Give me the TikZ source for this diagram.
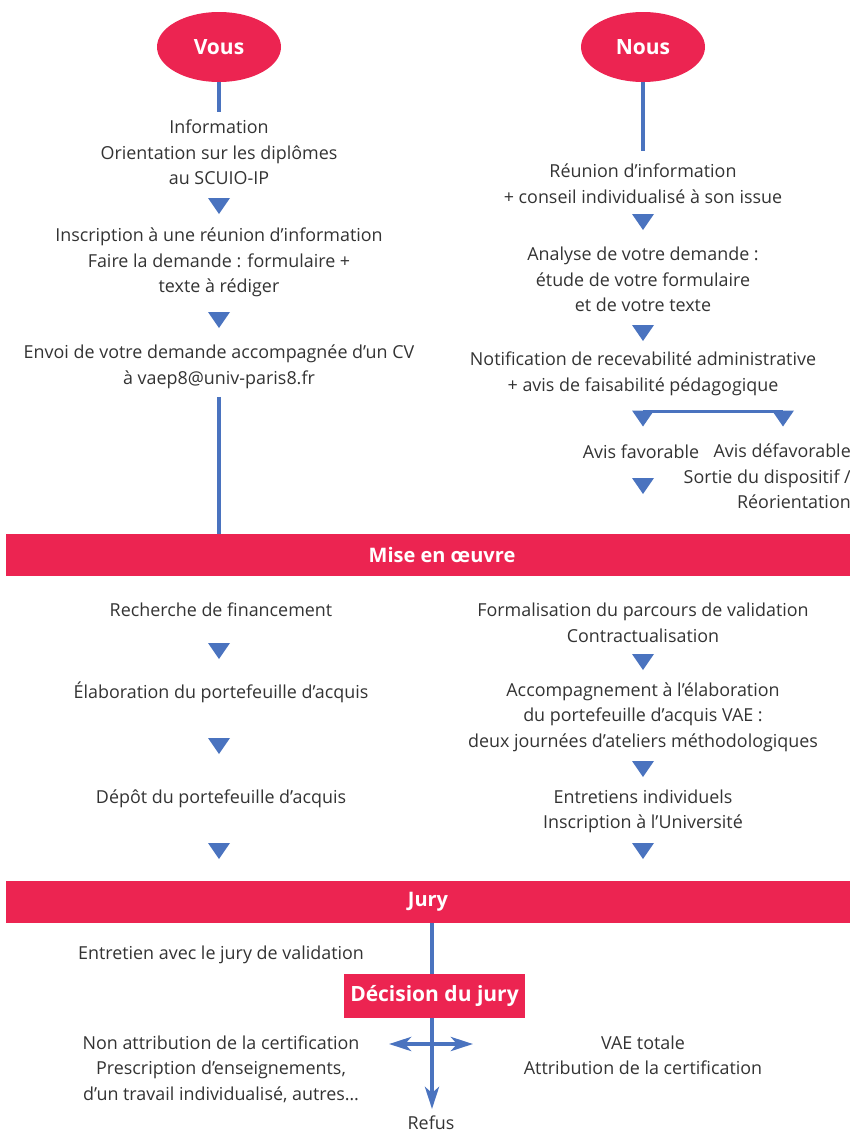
\documentclass[tikz,border=0pt]{standalone}
\usepackage{fontspec}
\setmainfont{Open Sans}
\usetikzlibrary{arrows.meta,shapes.geometric,calc}
\definecolor{vred}{HTML}{EC2451}
\definecolor{vblue}{HTML}{4A73BF}
\definecolor{vtext}{HTML}{333333}
\tikzset{
  txt/.style={text=vtext, align=center, inner sep=0pt, font=\fontsize{17.9}{25.5}\selectfont},
  oval/.style={ellipse, fill=vred, minimum width=124pt, minimum height=70pt, inner sep=0pt, text=white, font=\bfseries\fontsize{21}{25}\selectfont},
  link/.style={draw=vblue, line width=4.5pt},
  thinlink/.style={draw=vblue, line width=3pt},
  banner/.style={fill=vred, minimum width=844pt, minimum height=42pt, inner sep=0pt},
  bantext/.style={text=white, inner sep=0pt, font=\bfseries\fontsize{20}{23}\selectfont},
  decbox/.style={fill=vred, minimum width=181pt, minimum height=44pt, inner sep=0pt, text=white, font=\bfseries\fontsize{21}{25}\selectfont},
  tri/.pic={\fill[vblue] (-11,-8) -- (11,-8) -- (0,8) -- cycle;},
  bigtip/.style={-{Stealth[length=22pt,width=14pt,inset=6pt]}},
  dbltip/.style={{Stealth[length=22pt,width=14pt,inset=6pt]}-{Stealth[length=22pt,width=14pt,inset=6pt]}}
}
\begin{document}
\begin{tikzpicture}[x=1pt,y=-1pt]
\useasboundingbox (0,0) rectangle (850,1133);

% ---- top ovals
\node[oval] (vous) at (219,47) {Vous};
\node[oval] (nous) at (643,47) {Nous};

% ---- left column (Vous)
\node[txt] (info) at (219,152.5) {Information\\Orientation sur les diplômes\\au SCUIO-IP};
\pic at (219,206) {tri};
\node[txt] (inscr) at (219,262.5) {Inscription à une réunion d’information\\Faire la demande : formulaire +\\texte à rédiger};
\pic at (219,320) {tri};
\node[txt] (envoi) at (219,367) {Envoi de votre demande accompagnée d’un CV\\à vaep8@univ-paris8.fr};

% ---- right column (Nous)
\node[txt] (reunion) at (643,183.5) {Réunion d’information\\+ conseil individualisé à son issue};
\pic at (643,222) {tri};
\node[txt] (analyse) at (643,279.5) {Analyse de votre demande :\\étude de votre formulaire\\et de votre texte};
\pic at (643,333) {tri};
\node[txt] (notif) at (643,374) {Notification de recevabilité administrative\\+ avis de faisabilité pédagogique};
\coordinate (b1) at (643,411);
\coordinate (b2) at (783,411);
\draw[thinlink] (b1) -- (b2);
\pic at (643,418.5) {tri};
\pic at (783,418.5) {tri};
\node[txt] (fav) at (641,452) {Avis favorable};
\pic at (643,486) {tri};
\node[txt, align=right, anchor=east] (defav) at (851,476.5) {Avis défavorable\\Sortie du dispositif /\\Réorientation};

% ---- banner Mise en oeuvre
\node[banner] (mise) at (428,555) {};
\node[bantext] (misetxt) at (442,555) {Mise en œuvre};

\draw[link, shorten >=8pt] (vous.south) -- (info.north);
\draw[link, shorten >=13pt] (nous.south) -- (reunion.north);
\draw[link, shorten <=8pt] (envoi.south) -- (envoi.south |- mise.north);

% ---- left middle
\node[txt] (rech) at (221,610) {Recherche de financement};
\pic at (219,651) {tri};
\node[txt] (elab) at (221,692) {Élaboration du portefeuille d’acquis};
\pic at (219,746) {tri};
\node[txt] (depot) at (221,799) {Dépôt du portefeuille d’acquis};
\pic at (219,851) {tri};

% ---- right middle
\node[txt] (formal) at (643,623) {Formalisation du parcours de validation\\Contractualisation};
\pic at (643,662) {tri};
\node[txt] (accomp) at (643,717) {Accompagnement à l’élaboration\\du portefeuille d’acquis VAE :\\deux journées d’ateliers méthodologiques};
\pic at (643,769) {tri};
\node[txt] (entret) at (643,811.5) {Entretiens individuels\\Inscription à l’Université};
\pic at (643,851) {tri};

% ---- banner Jury
\node[banner] (jury) at (428,902) {};
\node[bantext] (jurytxt) at (428,902) {Jury};

\node[txt] (entjury) at (221,955) {Entretien avec le jury de validation};
\node[decbox] (decision) at (434.5,996) {Décision du jury};
\draw[link] (jury.south -| 432,0) -- (decision.north -| 432,0);

\node[txt] (nonattr) at (221,1069) {Non attribution de la certification\\Prescription d’enseignements,\\d’un travail individualisé, autres…};
\node[txt] (vae) at (643,1055.5) {VAE totale\\Attribution de la certification};
\node[txt] (refus) at (431,1123) {Refus};

\coordinate (tipdown) at (432,1109);
\draw[link, bigtip] (decision.south -| 432,0) -- (tipdown);
\coordinate (hl) at (389,1044);
\coordinate (hr) at (473,1044);
\draw[link, dbltip] (hl) -- (hr);
\end{tikzpicture}
\end{document}
